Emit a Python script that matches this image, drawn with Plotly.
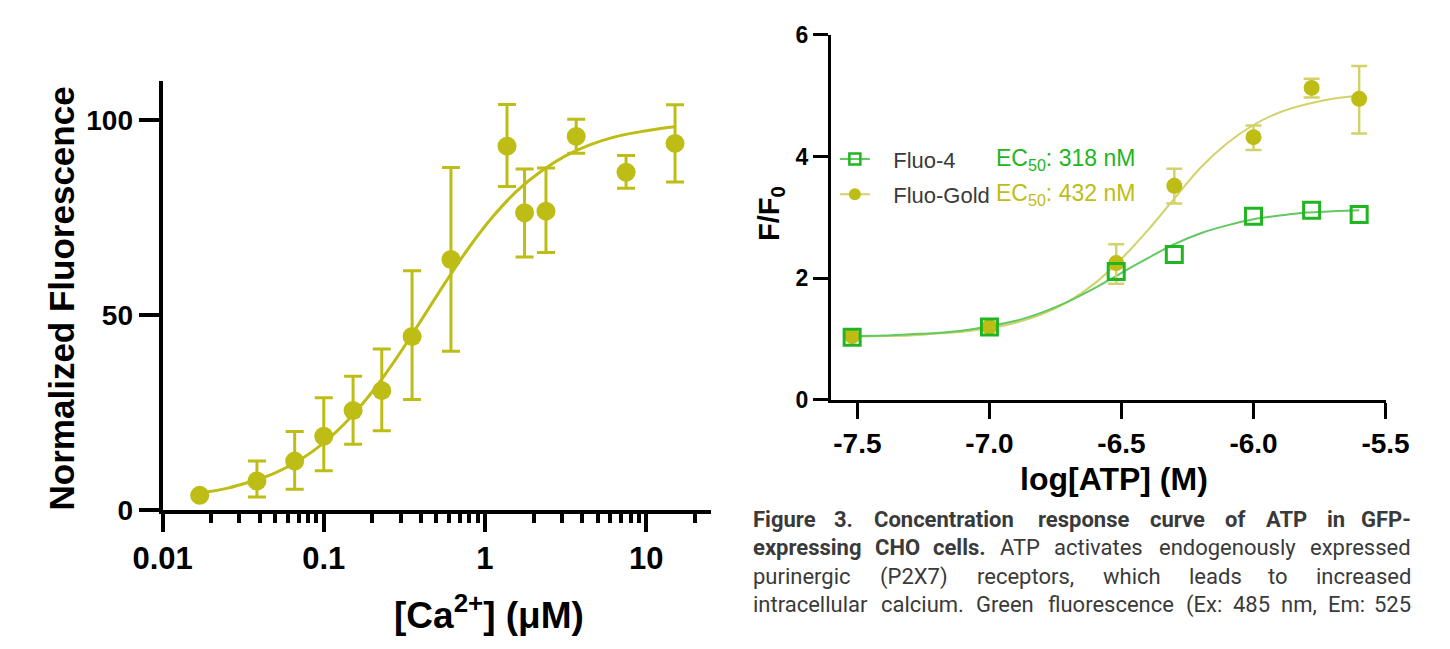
import plotly.graph_objects as go

W, H = 1450, 649

# ---------------- Left panel data: Ca2+ titration ----------------
ca_conc = [0.017, 0.0385, 0.066, 0.1, 0.152, 0.229, 0.353, 0.615, 1.37, 1.76, 2.39, 3.68, 7.5, 15.1]
ca_norm = [3.7, 7.4, 12.5, 18.9, 25.5, 30.6, 44.5, 64.3, 93.4, 76.3, 76.7, 95.9, 86.7, 94.1]
ca_err_hi = [3.7, 12.5, 20.1, 28.8, 34.3, 41.3, 61.4, 87.9, 104.1, 87.5, 87.8, 100.3, 91.0, 104.0]
ca_err_lo = [3.7, 3.3, 5.3, 10.0, 16.8, 20.3, 28.3, 40.7, 83.0, 64.9, 66.1, 91.6, 82.6, 84.2]
ca_fit_x = [0.017, 0.025, 0.035, 0.05, 0.071, 0.1, 0.141, 0.2, 0.282, 0.398, 0.562,
            0.794, 1.12, 1.58, 2.24, 3.16, 4.47, 6.31, 8.91, 12.6, 15.1]
ca_fit_y = [4.3, 5.5, 7.2, 9.5, 12.8, 17.2, 23.0, 30.3, 38.9, 48.4, 58.1,
            67.3, 75.3, 81.9, 87.0, 90.9, 93.7, 95.7, 97.0, 98.0, 98.4]
ca_tickvals = [0.01, 0.1, 1, 10]
ca_ticktext = ["0.01", "0.1", "1", "10"]
ca_minor = [0.02, 0.03, 0.04, 0.05, 0.06, 0.07, 0.08, 0.09,
            0.2, 0.3, 0.4, 0.5, 0.6, 0.7, 0.8, 0.9,
            2, 3, 4, 5, 6, 7, 8, 9, 20]
norm_tickvals = [0, 50, 100]

# ---------------- Right panel data: ATP response ----------------
atp_log = [-7.52, -7.0, -6.52, -6.3, -6.0, -5.78, -5.6]
fluo4 = [1.03, 1.20, 2.11, 2.39, 3.02, 3.12, 3.05]
gold = [1.05, 1.20, 2.25, 3.52, 4.32, 5.13, 4.95]
gold_err_hi = [1.05, 1.20, 2.56, 3.80, 4.51, 5.28, 5.49]
gold_err_lo = [1.05, 1.20, 1.91, 3.23, 4.11, 4.97, 4.38]
fit_log = [-7.52, -7.4, -7.3, -7.2, -7.1, -7.0, -6.9, -6.8, -6.7, -6.6, -6.5,
           -6.4, -6.3, -6.2, -6.1, -6.0, -5.9, -5.8, -5.7, -5.6]
fluo4_fit = [1.05, 1.06, 1.08, 1.10, 1.14, 1.21, 1.30, 1.44, 1.62, 1.84, 2.09,
             2.33, 2.56, 2.74, 2.87, 2.97, 3.03, 3.08, 3.10, 3.12]
gold_fit = [1.04, 1.05, 1.06, 1.09, 1.12, 1.18, 1.27, 1.41, 1.62, 1.92, 2.32,
            2.79, 3.31, 3.82, 4.22, 4.52, 4.73, 4.86, 4.95, 5.00]
atp_tickvals = [-7.5, -7.0, -6.5, -6.0, -5.5]
atp_ticktext = ["-7.5", "-7.0", "-6.5", "-6.0", "-5.5"]
ff_tickvals = [0, 2, 4, 6]
series_names = ["Fluo-4", "Fluo-Gold"]
ec50_labels = ["EC<sub>50</sub>: 318 nM", "EC<sub>50</sub>: 432 nM"]

# ---------------- Caption text ----------------
caption_lines = [
    ["Figure", "3.", "Concentration", "response", "curve", "of", "ATP", "in", "GFP-"],
    ["expressing", "CHO", "cells.", "ATP", "activates", "endogenously", "expressed"],
    ["purinergic", "(P2X7)", "receptors,", "which", "leads", "to", "increased"],
    ["intracellular", "calcium.", "Green", "fluorescence", "(Ex:", "485", "nm,", "Em:", "525"],
]
caption_bold_words = [9, 3, 0, 0]  # number of leading bold words per line

# ---------------- styling / layout ----------------
cap_left, cap_right = 749, 1437
cap_baselines = [538, 568, 598, 627.5]
CAP_SIZE = 22

GOLD = "#BDBD16"
GOLD_FIT = "#D3D26A"
GREEN = "#22B522"
GREEN_FIT = "#62C862"
TXT = "#3a3a3a"
AX_FONT = "Liberation Sans, Arial, sans-serif"
CAP_FONT = "Roboto, sans-serif"

# approximate Roboto advance widths (em) used only to justify caption lines
_RW = {' ': .248, '(': .342, ')': .348, ',': .196, '-': .276, '.': .263, ':': .242,
       'A': .652, 'C': .652, 'E': .568, 'F': .554, 'G': .682, 'H': .713, 'M': .873,
       'O': .688, 'P': .632, 'T': .611, 'X': .628,
       'a': .544, 'c': .523, 'd': .547, 'e': .529, 'f': .347, 'g': .560, 'h': .551,
       'i': .243, 'l': .243, 'm': .875, 'n': .551, 'o': .570, 'p': .560, 'r': .338,
       's': .515, 't': .327, 'u': .551, 'v': .484, 'w': .751, 'x': .496, 'y': .473, 'z': .496}


def text_w(word, bold, size):
    w = sum(_RW.get(ch, .562) for ch in word) * size * 1.08
    return w * (1.01 if bold else 1.0)


def px(x):
    return x / W


def py(y):
    return 1 - y / H


fig = go.Figure()

# Left panel
fig.add_trace(go.Scatter(x=ca_fit_x, y=ca_fit_y, mode="lines", line=dict(color=GOLD, width=3, shape="spline"),
                         xaxis="x", yaxis="y", showlegend=False, hoverinfo="skip"))
fig.add_trace(go.Scatter(
    x=ca_conc, y=ca_norm, mode="markers",
    marker=dict(color=GOLD, size=19, line=dict(width=0)),
    error_y=dict(type="data", symmetric=False,
                 array=[h - v for h, v in zip(ca_err_hi, ca_norm)],
                 arrayminus=[v - l for l, v in zip(ca_err_lo, ca_norm)],
                 color=GOLD, thickness=3, width=9),
    xaxis="x", yaxis="y", showlegend=False, cliponaxis=False))

# Right panel
fig.add_trace(go.Scatter(x=fit_log, y=gold_fit, mode="lines", line=dict(color=GOLD_FIT, width=2, shape="spline"),
                         xaxis="x2", yaxis="y2", showlegend=False, hoverinfo="skip"))
fig.add_trace(go.Scatter(x=fit_log, y=fluo4_fit, mode="lines", line=dict(color=GREEN_FIT, width=2, shape="spline"),
                         xaxis="x2", yaxis="y2", showlegend=False, hoverinfo="skip"))
fig.add_trace(go.Scatter(
    x=atp_log, y=gold, mode="markers",
    marker=dict(color=GOLD, size=16, line=dict(width=0)),
    error_y=dict(type="data", symmetric=False,
                 array=[h - v for h, v in zip(gold_err_hi, gold)],
                 arrayminus=[v - l for l, v in zip(gold_err_lo, gold)],
                 color=GOLD_FIT, thickness=2.5, width=8),
    xaxis="x2", yaxis="y2", showlegend=False, cliponaxis=False))
fig.add_trace(go.Scatter(
    x=atp_log, y=fluo4, mode="markers",
    marker=dict(symbol="square-open", color=GREEN, size=16, line=dict(width=3, color=GREEN)),
    xaxis="x2", yaxis="y2", showlegend=False, cliponaxis=False))

# legend-only entries
NBSP = "\u00a0"
fig.add_trace(go.Scatter(x=[None], y=[None], mode="lines+markers", name=NBSP * 3 + series_names[0],
                         line=dict(color=GREEN_FIT, width=2),
                         marker=dict(symbol="square-open", size=11, color=GREEN, line=dict(width=2.5, color=GREEN)),
                         xaxis="x2", yaxis="y2", legend="legend"))
fig.add_trace(go.Scatter(x=[None], y=[None], mode="lines+markers", name=NBSP * 3 + series_names[1],
                         line=dict(color=GOLD_FIT, width=2),
                         marker=dict(symbol="circle", size=12, color=GOLD),
                         xaxis="x2", yaxis="y2", legend="legend2"))

axis_common = dict(showline=True, linecolor="black", showgrid=False, zeroline=False,
                   ticks="outside", tickcolor="black")

annotations = []
# Left titles
annotations.append(dict(text="Normalized Fluorescence", x=px(33), y=py(299), xref="paper", yref="paper",
                        textangle=-90, showarrow=False, xanchor="center", yanchor="middle",
                        font=dict(family=AX_FONT, size=35, color="black", weight="bold")))
annotations.append(dict(text="[Ca<sup>2+</sup>] (μM)", x=px(477), y=py(628), xref="paper", yref="paper",
                        showarrow=False, xanchor="center", yanchor="middle",
                        font=dict(family=AX_FONT, size=37, color="black", weight="bold")))
# Right titles
annotations.append(dict(text="F/F<sub>0</sub>", x=px(769), y=py(210), xref="paper", yref="paper",
                        textangle=-90, showarrow=False, xanchor="center", yanchor="middle",
                        font=dict(family=AX_FONT, size=29, color="black", weight="bold")))
annotations.append(dict(text="log[ATP] (M)", x=px(1126), y=py(488), xref="paper", yref="paper",
                        showarrow=False, xanchor="center", yanchor="middle",
                        font=dict(family=AX_FONT, size=32, color="black", weight="bold")))
# EC50 labels
for lab, col, yy in zip(ec50_labels, [GREEN, GOLD], [153, 190]):
    annotations.append(dict(text=lab, x=px(1001), y=py(yy), xref="paper", yref="paper",
                            showarrow=False, xanchor="left", yanchor="middle",
                            font=dict(family=AX_FONT, size=23, color=col)))

# Caption words, fully justified between cap_left and cap_right
for li, words in enumerate(caption_lines):
    bolds = [wi < caption_bold_words[li] for wi in range(len(words))]
    widths = [text_w(w, b, CAP_SIZE) for w, b in zip(words, bolds)]
    gap = (cap_right - cap_left - sum(widths)) / (len(words) - 1)
    xcur = cap_left
    for wi, (w, b, ww) in enumerate(zip(words, bolds, widths)):
        if wi == 0:
            xx, anc = cap_left, "left"
        elif wi == len(words) - 1:
            xx, anc = cap_right, "right"
        else:
            xx, anc = xcur + ww / 2, "center"
        xcur += ww + gap
        annotations.append(dict(text=w, x=px(xx), y=py(cap_baselines[li] - 8), xref="paper", yref="paper",
                                showarrow=False, xanchor=anc, yanchor="middle",
                                font=dict(family=CAP_FONT, size=CAP_SIZE, color=TXT,
                                          weight="bold" if b else "normal")))

fig.update_layout(
    width=W, height=H, margin=dict(l=0, r=0, t=0, b=0),
    paper_bgcolor="white", plot_bgcolor="white",
    xaxis=dict(domain=[px(137.7), px(707)], anchor="y", type="log", range=[-2, 1.4],
               tickvals=ca_tickvals, ticktext=ca_ticktext, linewidth=4, ticklen=18, tickwidth=4,
               tickfont=dict(family=AX_FONT, size=31, color="black", weight="bold"),
               minor=dict(tickvals=ca_minor, ticks="outside", ticklen=9, tickwidth=4, tickcolor="black"),
               **axis_common),
    yaxis=dict(domain=[py(520), py(71.7)], anchor="x", range=[0, 110],
               tickvals=norm_tickvals, linewidth=4, ticklen=20, tickwidth=4,
               tickfont=dict(family=AX_FONT, size=28, color="black", weight="bold"),
               **axis_common),
    xaxis2=dict(domain=[px(832), px(1408)], anchor="y2", range=[-7.6, -5.5],
                tickvals=atp_tickvals, ticktext=atp_ticktext, linewidth=3, ticklen=16, tickwidth=3,
                tickfont=dict(family=AX_FONT, size=28, color="black", weight="bold"),
                **axis_common),
    yaxis2=dict(domain=[py(405), py(23)], anchor="x2", range=[0, 6],
                tickvals=ff_tickvals, linewidth=3, ticklen=15, tickwidth=3,
                tickfont=dict(family=AX_FONT, size=23, color="black", weight="bold"),
                **axis_common),
    legend=dict(x=px(836), y=py(153), xanchor="left", yanchor="middle", bgcolor="rgba(0,0,0,0)",
                font=dict(family=AX_FONT, size=22, color=TXT), itemwidth=30, borderwidth=0),
    legend2=dict(x=px(836), y=py(190), xanchor="left", yanchor="middle", bgcolor="rgba(0,0,0,0)",
                 font=dict(family=AX_FONT, size=22, color=TXT), itemwidth=30, borderwidth=0),
    annotations=annotations,
    showlegend=True,
)

fig.write_html("out.html", config={"displayModeBar": False},
               post_script="document.body.style.margin='0';document.body.style.overflow='hidden';")
